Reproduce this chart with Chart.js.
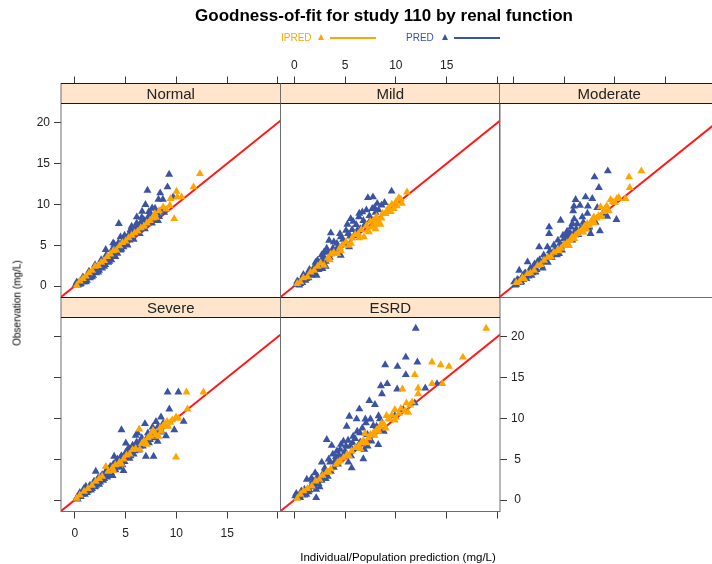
<!DOCTYPE html>
<html>
<head>
<meta charset="utf-8">
<script src="https://cdn.jsdelivr.net/npm/chart.js@4.4.1/dist/chart.umd.min.js"></script>
<style>
  html, body { margin: 0; padding: 0; background: #fff; }
  #wrap { position: relative; width: 712px; height: 564px; overflow: hidden; font-family: Arial, "Liberation Sans", sans-serif; }
  #wrap canvas { position: absolute; left: 0; top: 0; }
  .txt { position: absolute; white-space: nowrap; }
  .strip { position: absolute; width: 219.5px; text-align: center; font-size: 15px; color: #222; line-height: 20px; }
  .tri { position: absolute; width: 0; height: 0; border-left: 3.5px solid transparent; border-right: 3.5px solid transparent; border-bottom: 6px solid; }
  .lline { position: absolute; height: 2px; }
</style>
</head>
<body>
<div id="wrap">
  <canvas id="cNormal" width="760" height="564"></canvas>
  <canvas id="cMild" width="760" height="564"></canvas>
  <canvas id="cModerate" width="760" height="564"></canvas>
  <canvas id="cSevere" width="760" height="564"></canvas>
  <canvas id="cEsrd" width="760" height="564"></canvas>

  <div class="txt" style="left:0;width:768px;top:6px;text-align:center;font-size:17px;font-weight:bold;color:#000;">Goodness-of-fit for study 110 by renal function</div>

  <div class="txt" style="left:281px;top:32px;font-size:10px;color:#FFA500;">IPRED</div>
  <div class="tri" style="left:318px;top:34px;border-bottom-color:#FFA500;"></div>
  <div class="lline" style="left:330px;top:37px;width:46px;background:#FFA500;"></div>
  <div class="txt" style="left:406px;top:32px;font-size:10px;color:#3A54A3;">PRED</div>
  <div class="tri" style="left:442px;top:34px;border-bottom-color:#3A54A3;"></div>
  <div class="lline" style="left:454px;top:37px;width:46px;background:#3A54A3;"></div>

  <div class="strip" style="left:61px;top:83.5px;">Normal</div>
  <div class="strip" style="left:280.5px;top:83.5px;">Mild</div>
  <div class="strip" style="left:499.5px;top:83.5px;">Moderate</div>
  <div class="strip" style="left:61px;top:297.5px;">Severe</div>
  <div class="strip" style="left:280.5px;top:297.5px;">ESRD</div>

  <div class="txt" style="left:17px;top:303px;font-size:10px;color:#000;transform:translate(-50%,-50%) rotate(-90deg);">Observation (mg/L)</div>
  <div class="txt" style="left:398px;top:557px;font-size:11.5px;color:#000;transform:translate(-50%,-50%);">Individual/Population prediction (mg/L)</div>
</div>

<script>
// Axis setup
const xMin = -1.35, xMax = 20.25;
const yMin = -1.4, yMax = 24.79;
const tickValues = [0, 5, 10, 15, 20];
const xTickLabels = ["0", "5", "10", "15", ""];
const yTickLabels = ["0", "5", "10", "15", "20"];

const ipredColor = "#FFA500";
const predColor = "#3A54A3";

// Normal
const normalPred = [[0.1,0.2],[0.3,0.1],[0.4,0.4],[0.6,0.3],[0.7,0.6],[0.9,0.5],[1.0,0.9],[1.2,0.7],[1.3,1.2],[1.5,1.0],[1.6,1.5],[1.8,1.3],[1.9,2.0],[2.1,1.6],[2.2,2.3],[2.4,1.9],[2.5,2.6],[2.7,2.2],[2.8,3.0],[3.0,2.6],[3.05,4.45],[3.2,3.3],[3.3,2.9],[3.5,3.7],[3.6,3.2],[3.78,5.27],[3.8,4.1],[3.9,3.6],[4.1,4.6],[4.2,4.0],[4.34,7.63],[4.4,5.0],[4.5,4.4],[4.7,5.5],[4.8,4.8],[5.0,5.9],[5.1,5.2],[5.3,6.3],[5.4,5.6],[5.6,6.6],[5.7,6.0],[5.9,7.0],[6.0,6.4],[6.11,8.45],[6.2,7.4],[6.3,6.8],[6.5,7.8],[6.63,9.14],[6.7,7.2],[6.8,8.1],[6.96,9.96],[7.0,7.6],[7.16,11.71],[7.2,8.4],[7.4,7.9],[7.5,8.8],[7.62,9.55],[7.8,8.2],[8.0,9.0],[8.24,10.61],[8.3,8.5],[8.41,11.39],[8.67,10.61],[9.13,12.12],[9.29,13.67],[9.69,10.9],
  [0.2,0.5],[0.5,0.2],[0.8,1.1],[1.1,0.5],[1.4,1.8],[1.7,1.1],[2.0,2.6],[2.3,1.7],[2.6,3.2],[2.9,2.4],[3.1,3.8],[3.4,3.0],[3.7,4.5],[4.0,3.6],[4.3,5.3],[4.6,4.5],[4.9,6.2],[5.2,5.0],[5.5,6.9],[5.8,5.7],[6.1,7.7],[6.4,6.4],[6.6,8.4],[6.9,7.0],[7.3,9.1],[7.6,7.7],[7.9,9.5],[8.2,8.0],[8.5,9.2],[8.8,9.0],[5.6,7.3],[4.5,6.0],[3.9,5.1]];
const normalIpred = [[0.2,0.1],[0.5,0.6],[0.8,0.9],[1.1,1.2],[1.4,1.6],[1.7,1.9],[2.0,2.4],[2.3,2.5],[2.6,2.9],[2.9,3.1],[3.2,3.6],[3.5,3.9],[3.8,4.3],[4.1,4.4],[4.4,4.9],[4.7,5.3],[5.0,5.5],[5.3,5.9],[5.6,6.2],[5.9,6.5],[6.2,6.7],[6.5,7.1],[6.8,7.3],[7.1,7.7],[7.4,8.0],[7.7,8.3],[7.88,8.86],[8.0,8.4],[8.3,9.2],[8.7,9.67],[9.0,9.4],[9.36,9.88],[9.43,10.69],[9.79,8.24],[10.02,11.59],[10.08,10.9],[10.51,10.9],[11.69,12.12],[12.32,13.76]];

// Mild
const mildPred = [[0.2,0.2],[0.4,0.5],[0.5,0.1],[0.7,0.8],[0.8,0.4],[1.0,1.1],[1.1,0.7],[1.3,1.5],[1.4,1.0],[1.6,1.8],[1.7,1.3],[1.9,2.2],[2.0,1.6],[2.2,2.6],[2.29,3.14],[2.4,2.0],[2.6,3.0],[2.78,2.12],[2.9,3.6],[2.94,4.16],[3.1,3.0],[3.3,4.1],[3.43,5.59],[3.5,3.5],[3.6,6.49],[3.8,4.6],[4.0,4.0],[4.2,5.2],[4.4,4.6],[4.58,6.0],[4.58,3.76],[4.8,5.7],[5.0,5.1],[5.23,7.55],[5.3,6.4],[5.4,4.78],[5.56,8.24],[5.7,6.9],[5.9,6.2],[6.1,7.5],[6.37,8.45],[6.5,7.0],[6.7,9.06],[6.8,8.0],[7.0,7.6],[7.25,10.8],[7.4,8.6],[7.68,9.47],[7.75,10.9],[8.0,9.0],[8.17,10.1],[8.89,10.2],[9.58,11.6],
  [0.3,0.6],[0.6,0.3],[0.9,1.4],[1.2,0.9],[1.5,2.0],[1.8,1.5],[2.1,2.9],[2.5,2.3],[2.7,3.8],[3.0,3.3],[3.2,4.6],[3.6,4.0],[3.9,5.4],[4.3,4.8],[4.5,6.4],[4.9,5.3],[5.1,6.8],[5.5,6.1],[5.8,7.9],[6.2,6.8],[6.4,8.9],[6.9,7.4],[7.1,9.3],[7.5,8.1],[7.9,9.6],[8.3,9.3],[8.6,9.9],[3.1,2.4],[2.2,1.3]];
const mildIpred = [[0.3,0.3],[0.6,0.5],[0.9,1.0],[1.31,1.1],[1.6,1.7],[1.96,1.92],[2.3,2.4],[2.6,2.8],[2.94,2.53],[3.3,3.4],[3.6,3.9],[3.9,4.1],[4.25,3.96],[4.5,4.7],[4.8,5.0],[5.1,5.4],[5.39,4.98],[5.7,5.9],[6.0,6.3],[6.3,6.4],[6.6,6.9],[6.86,6.0],[7.1,7.4],[7.35,6.61],[7.5,7.9],[7.8,8.0],[8.1,8.5],[8.3,7.6],[8.5,7.55],[8.7,8.9],[8.99,8.86],[9.3,9.6],[9.6,10.0],[9.8,9.47],[10.0,10.3],[10.3,10.8],[10.6,10.1],[11.1,11.5],
  [7.6,7.2],[7.9,7.5],[8.2,8.0],[8.6,8.3],[8.0,7.0],[7.2,6.8],[9.1,9.2],[9.5,9.1],[10.1,9.8],[10.5,10.6],[6.4,5.9],[5.6,5.2],[4.6,4.3],[3.5,3.2]];

// Moderate
const moderatePred = [[0.1,0.49],[0.3,0.2],[0.5,0.7],[0.59,1.92],[0.7,0.4],[0.9,1.2],[1.0,0.8],[1.2,1.6],[1.41,2.94],[1.5,1.2],[1.7,2.2],[1.9,1.6],[2.1,2.7],[2.3,2.0],[2.55,4.78],[2.6,3.2],[2.8,2.5],[3.0,3.8],[3.2,3.0],[3.37,4.78],[3.53,7.22],[3.53,6.41],[3.6,4.3],[3.8,3.5],[4.0,5.0],[4.2,4.1],[4.4,5.6],[4.51,3.96],[4.67,8.04],[4.7,4.8],[4.9,6.2],[5.1,5.4],[5.3,6.7],[5.5,5.9],[5.7,7.2],[5.82,7.63],[5.98,9.76],[6.0,6.5],[6.14,10.57],[6.3,7.6],[6.57,9.88],[6.6,6.9],[6.8,8.45],[7.0,7.5],[7.12,10.9],[7.35,9.76],[7.5,7.2],[7.61,6.41],[7.78,10.69],[8.0,13.35],[8.27,9.59],[8.43,12.04],[8.53,6.73],[9.25,8.53],[9.31,14.08],[10.16,8.12],
  [0.2,0.1],[0.4,0.8],[0.8,0.5],[1.1,1.5],[1.3,0.9],[1.6,1.9],[1.8,1.3],[2.0,2.4],[2.2,1.7],[2.4,3.0],[2.9,2.2],[3.1,3.4],[3.4,2.9],[3.6,3.9],[4.1,4.5],[4.3,3.8],[4.6,5.2],[4.8,4.4],[5.0,5.8],[5.2,6.2],[5.4,5.0],[5.6,6.5],[5.8,5.6],[6.2,7.0],[6.4,6.3],[6.9,7.8],[7.3,8.9],[6.0,8.2],[5.9,9.2],[7.4,7.0],[7.9,8.3],[8.1,7.8],[8.8,8.9]];
const moderateIpred = [[0.3,0.4],[0.6,0.5],[0.9,1.0],[1.08,0.9],[1.4,1.5],[1.7,1.6],[2.06,1.92],[2.4,2.5],[2.7,2.6],[3.04,3.14],[3.4,3.5],[3.7,3.6],[4.0,4.1],[4.35,4.37],[4.7,4.6],[5.0,5.1],[5.3,5.3],[5.49,4.98],[5.8,6.0],[6.1,6.2],[6.47,6.61],[6.7,6.8],[7.0,7.3],[7.29,7.63],[7.6,7.8],[7.94,8.45],[8.2,8.3],[8.59,9.67],[8.9,9.1],[9.2,9.8],[9.58,10.57],[10.0,10.2],[10.39,10.82],[11.05,10.69],[11.47,12.04],[11.4,13.35],[12.61,14.08],
  [6.0,5.8],[6.3,6.4],[6.9,6.6],[7.2,7.0],[7.5,7.4],[7.8,7.9],[8.0,7.7],[8.4,8.6],[8.7,8.5],[9.0,9.4],[9.4,9.2],[9.8,10.3],[10.2,10.7],[5.6,5.6],[5.2,5.0],[4.5,4.3]];

// Severe
const severePred = [[0.2,0.3],[0.43,0.65],[0.6,0.4],[0.8,1.0],[1.0,0.7],[1.09,1.67],[1.3,1.1],[1.5,1.8],[1.7,1.4],[1.9,2.3],[2.07,3.5],[2.1,1.8],[2.3,2.7],[2.5,2.2],[2.7,3.1],[2.9,2.6],[3.1,3.6],[3.3,3.0],[3.5,4.1],[3.72,2.97],[3.88,5.34],[3.9,3.9],[4.1,4.8],[4.3,4.3],[4.5,5.2],[4.6,8.59],[4.8,3.58],[4.9,4.7],[5.03,6.97],[5.2,5.7],[5.4,5.1],[5.6,6.2],[5.8,5.6],[6.0,6.7],[6.18,8.19],[6.3,6.1],[6.5,7.2],[6.7,6.6],[6.91,9.33],[7.0,5.34],[7.1,7.6],[7.3,7.0],[7.5,8.1],[7.66,8.92],[7.76,5.34],[7.9,7.6],[8.16,7.17],[8.3,8.5],[8.49,10.14],[8.7,9.4],[8.98,7.86],[9.14,13.2],[9.31,11.12],[9.8,8.59],[10.2,13.2],[10.72,9.61],
  [0.3,0.1],[0.5,0.9],[0.7,0.7],[0.9,1.4],[1.2,0.9],[1.4,1.6],[1.6,1.2],[1.8,2.0],[2.0,1.6],[2.2,2.4],[2.4,1.9],[2.6,2.9],[2.8,2.4],[3.0,3.3],[3.2,2.8],[3.4,3.8],[3.6,3.3],[3.8,4.4],[4.0,3.7],[4.2,5.0],[4.4,4.0],[4.6,5.4],[4.7,4.3],[5.0,5.8],[5.3,6.4],[5.5,5.4],[5.7,6.7],[5.9,6.0],[6.1,7.1],[6.4,6.6],[6.6,7.6],[6.8,7.1],[7.2,8.2],[7.4,7.4],[7.6,7.9],[8.0,8.1],[8.2,9.0],[8.6,8.3],[8.0,9.6],[6.0,7.9]];
const severeIpred = [[0.2,0.2],[0.5,0.6],[0.92,1.06],[1.3,1.4],[1.7,1.8],[2.07,2.28],[2.4,2.6],[2.7,2.9],[3.06,4.11],[3.3,3.5],[3.7,3.9],[4.0,4.3],[4.4,4.6],[4.8,5.0],[5.1,5.5],[5.4,5.6],[5.69,6.15],[6.0,6.3],[6.35,8.68],[6.6,6.9],[7.0,6.97],[7.2,7.6],[7.5,7.8],[7.8,8.3],[8.26,7.78],[8.4,8.8],[8.65,9.0],[9.08,9.61],[9.4,9.5],[9.97,10.14],[9.97,5.25],[11.0,13.2],[11.1,11.12],[12.66,13.2],
  [6.8,7.2],[7.1,6.8],[7.4,7.9],[7.7,8.5],[8.0,8.0],[8.5,8.4],[8.8,9.2],[9.2,9.0],[9.6,9.8],[10.2,10.0],[6.4,6.2],[3.8,3.6],[4.6,4.4]];

// ESRD
const esrdPred = [[0.1,0.49],[0.3,0.3],[0.59,0.28],[0.8,0.9],[1.0,0.6],[1.24,2.52],[1.41,0.98],[1.6,1.6],[1.8,2.3],[2.06,3.33],[2.16,1.3],[2.16,0.28],[2.4,2.0],[2.71,4.63],[2.9,3.4],[3.2,7.4],[3.3,2.9],[3.53,4.63],[3.69,6.67],[3.9,4.0],[4.1,5.3],[4.3,4.4],[4.51,6.18],[4.7,5.2],[4.84,7.2],[5.0,6.0],[5.16,9.02],[5.33,4.63],[5.42,10.24],[5.5,6.6],[5.65,3.94],[5.75,6.99],[6.0,7.5],[6.14,9.92],[6.3,6.6],[6.41,11.14],[6.47,8.21],[6.8,5.04],[7.06,9.43],[7.22,6.59],[7.39,12.15],[7.78,9.11],[7.94,11.67],[8.1,9.02],[8.27,6.79],[8.43,9.92],[8.53,13.98],[8.63,13.0],[8.82,8.41],[8.95,16.54],[9.15,14.23],[9.9,10.33],[10.13,13.58],[10.16,16.34],[10.72,11.06],[10.98,17.48],[10.98,15.33],[11.86,11.87],[11.96,21.0],[12.12,16.87],[12.9,13.7],[14.05,14.23],
  [0.2,0.8],[0.5,0.5],[0.7,1.1],[1.0,1.3],[1.2,0.7],[1.5,1.2],[1.7,2.7],[1.9,1.9],[2.3,2.9],[2.5,1.6],[2.7,2.4],[3.0,3.9],[3.1,2.6],[3.4,5.0],[3.6,3.5],[3.8,5.6],[4.0,4.8],[4.2,6.0],[4.4,5.5],[4.6,6.8],[4.9,5.6],[5.1,6.6],[5.3,7.3],[5.6,5.4],[5.8,7.8],[6.1,6.3],[6.2,8.4],[6.5,7.1],[6.7,8.8],[6.9,6.2],[7.0,9.9],[7.2,8.0],[7.5,9.9],[7.6,7.2],[8.0,8.4],[8.3,10.3]];
const esrdIpred = [[0.3,0.2],[0.6,0.7],[0.92,1.1],[1.3,1.4],[1.73,1.71],[2.1,2.3],[2.48,2.52],[2.8,3.0],[3.2,3.41],[3.6,3.8],[4.12,4.35],[4.5,4.8],[4.84,5.16],[5.2,5.6],[5.65,5.98],[6.0,6.4],[6.31,6.59],[6.6,7.0],[6.96,8.13],[7.3,7.6],[7.78,8.21],[8.1,8.6],[8.43,9.02],[8.8,9.3],[9.08,10.33],[9.4,9.9],[9.9,9.76],[9.9,11.06],[10.3,10.6],[10.65,13.58],[11.05,11.87],[11.21,10.73],[11.6,12.0],[11.86,15.33],[12.19,13.7],[12.19,13.0],[13.56,14.23],[13.56,16.87],[14.41,16.54],[14.58,14.23],[15.23,16.34],[16.6,17.48],[18.89,21.0],
  [6.5,6.3],[6.8,7.3],[7.1,7.0],[7.5,8.0],[7.9,7.9],[8.3,8.4],[8.6,9.4],[9.0,8.8],[9.3,10.0],[9.6,10.4],[10.0,10.1],[10.5,11.2],[10.9,10.9],[11.4,11.6],[5.4,5.4],[4.3,4.6],[3.4,3.4]];

const identity = [[-1.4, -1.4], [20.3, 20.3]];

// panel box: 219.5 x 214 (strip 20px at top inside the box)
const PW = 219.5, PH = 214, STRIP = 20;
const CW = 760, CH = 564;
const XH = 30, YW = 40;

const stripPlugin = {
    id: "stripPlugin",
    beforeDatasetsDraw(chart) {
        const a = chart.chartArea;
        const ctx = chart.ctx;
        ctx.save();
        ctx.fillStyle = "#FFE5CC";
        ctx.fillRect(a.left, a.top, a.right - a.left, STRIP);
        ctx.restore();
    },
    afterDraw(chart) {
        const a = chart.chartArea;
        const ctx = chart.ctx;
        ctx.save();
        ctx.strokeStyle = "#6e6e6e";
        ctx.lineWidth = 1;
        ctx.strokeRect(a.left, a.top, a.right - a.left, a.bottom - a.top);
        ctx.strokeStyle = "#1a1a1a";
        ctx.beginPath();
        ctx.moveTo(a.left, a.top);
        ctx.lineTo(a.right, a.top);
        ctx.moveTo(a.left, a.top + STRIP);
        ctx.lineTo(a.right, a.top + STRIP);
        ctx.stroke();
        ctx.restore();
    }
};

function toPts(arr) {
    return arr.map(p => ({ x: p[0], y: p[1] }));
}

function makePanel(id, pred, ipred, p) {
    let padding = {
        left: p.left - (p.yPos === "left" ? YW : 0),
        right: CW - (p.left + PW) - (p.yPos === "right" ? YW : 0),
        top: p.top - (p.xPos === "top" ? XH : 0),
        bottom: CH - (p.top + PH) - (p.xPos === "bottom" ? XH : 0)
    };
    let ctx = document.getElementById(id).getContext("2d");
    new Chart(ctx, {
        type: "scatter",
        data: {
            datasets: [
                {
                    label: "IPRED",
                    data: toPts(ipred),
                    backgroundColor: ipredColor,
                    borderWidth: 0,
                    pointStyle: "triangle",
                    pointRadius: 4.6
                },
                {
                    label: "PRED",
                    data: toPts(pred),
                    backgroundColor: predColor,
                    borderWidth: 0,
                    pointStyle: "triangle",
                    pointRadius: 4.6
                },
                {
                    type: "line",
                    label: "identity",
                    data: toPts(identity),
                    borderColor: "#FF1A1A",
                    borderWidth: 2,
                    pointRadius: 0
                }
            ]
        },
        options: {
            responsive: false,
            animation: false,
            devicePixelRatio: 1,
            layout: { padding: padding },
            plugins: {
                legend: { display: false },
                tooltip: { enabled: false }
            },
            scales: {
                x: {
                    type: "linear",
                    position: p.xPos,
                    min: xMin,
                    max: xMax,
                    afterFit: s => { s.height = XH; },
                    afterBuildTicks: s => { s.ticks = tickValues.map(v => ({ value: v })); },
                    grid: { drawOnChartArea: false, tickLength: 7, color: "#3a3a3a" },
                    border: { display: false },
                    ticks: {
                        autoSkip: false,
                        maxRotation: 0,
                        padding: p.xPos === "top" ? 4 : 8,
                        color: "#222",
                        font: { family: "Arial, 'Liberation Sans'", size: 12 },
                        callback: (v, i) => p.xLabels ? xTickLabels[i] : ""
                    }
                },
                y: {
                    type: "linear",
                    display: p.yPos !== null,
                    position: p.yPos || "left",
                    min: yMin,
                    max: yMax,
                    afterFit: s => { s.width = p.yPos !== null ? YW : 0; },
                    afterBuildTicks: s => { s.ticks = tickValues.map(v => ({ value: v })); },
                    grid: { drawOnChartArea: false, tickLength: 7, color: "#3a3a3a" },
                    border: { display: false },
                    ticks: {
                        crossAlign: "center",
                        padding: 4,
                        color: "#222",
                        font: { family: "Arial, 'Liberation Sans'", size: 12 },
                        callback: (v, i) => p.yLabels ? yTickLabels[i] : ""
                    }
                }
            }
        },
        plugins: [stripPlugin]
    });
}

makePanel("cNormal", normalPred, normalIpred, { left: 61, top: 83.5, xPos: "top", xLabels: false, yPos: "left", yLabels: true });
makePanel("cMild", mildPred, mildIpred, { left: 280.5, top: 83.5, xPos: "top", xLabels: true, yPos: null, yLabels: false });
makePanel("cModerate", moderatePred, moderateIpred, { left: 499.5, top: 83.5, xPos: "top", xLabels: false, yPos: null, yLabels: false });
makePanel("cSevere", severePred, severeIpred, { left: 61, top: 297.5, xPos: "bottom", xLabels: true, yPos: "left", yLabels: false });
makePanel("cEsrd", esrdPred, esrdIpred, { left: 280.5, top: 297.5, xPos: "bottom", xLabels: false, yPos: "right", yLabels: true });
</script>
</body>
</html>
